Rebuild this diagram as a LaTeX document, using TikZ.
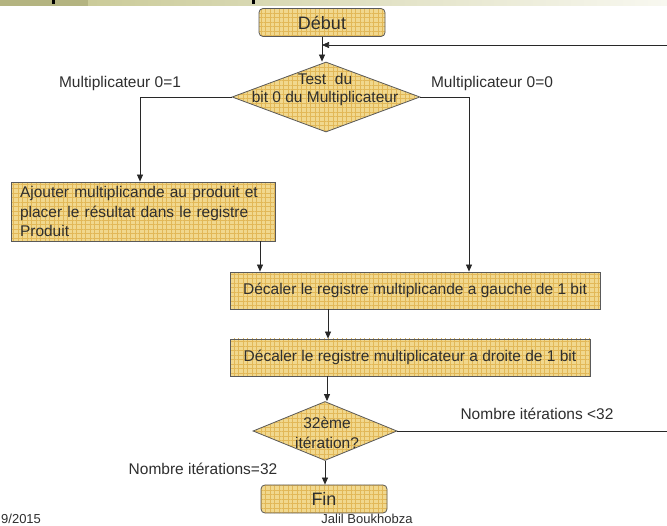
\documentclass[tikz,border=0pt]{standalone}
\usepackage{fontspec}
\setmainfont{Liberation Sans}
\usetikzlibrary{shapes.geometric,arrows.meta,patterns.meta}
\definecolor{boxfill}{RGB}{241,216,142}
\definecolor{gridc}{RGB}{226,184,88}
\definecolor{edge}{RGB}{90,90,90}
\definecolor{linec}{RGB}{40,40,40}
\definecolor{bandL}{RGB}{196,196,140}
\definecolor{bandR}{RGB}{248,248,240}
\begin{document}
\begin{tikzpicture}[x=1pt,y=-1pt,
  every node/.style={font=\fontsize{15.5}{18}\selectfont, text=black!82},
  boxbase/.style={draw=edge, line width=0.8pt, preaction={fill=boxfill},
    pattern={Hatch[distance=4.5pt,angle=0,line width=0.5pt]}, pattern color=gridc},
  termbox/.style={boxbase, rounded corners=4pt, minimum width=126pt, minimum height=28pt, inner sep=0pt,
    font=\fontsize{18}{20}\selectfont},
  procbox/.style={boxbase, minimum height=37pt, inner sep=0pt},
  decbox/.style={boxbase, diamond, inner sep=0pt},
  conn/.style={draw=linec, line width=0.7pt},
  arr/.style={conn, -{Triangle[length=7pt,width=6pt]}},
  lbl/.style={inner sep=0pt}
]
\useasboundingbox (0,0) rectangle (667,526);
\clip (0,0) rectangle (667,526);
% top band
\shade[left color=bandL, right color=bandR] (0,0) rectangle (667,6);
\fill[bandL!92!black] (0,0) rectangle (88,6);
\fill[black] (52,0) rectangle (54.5,4);
\fill[black] (252,0) rectangle (254.5,4);

% nodes
\node[termbox] (debut) at (322,22.5) {Début};
\node[decbox, minimum width=188pt, minimum height=70pt] (test) at (326,97) {};
\node[lbl, align=center, font=\fontsize{15.5}{18}\selectfont] (testtxt) at (325,89) {Test\ \ du\\bit 0 du Multiplicateur};
\node[procbox, minimum width=264pt, minimum height=59pt, text width=246pt, align=left,
  font=\fontsize{15.5}{19.5}\selectfont] (add) at (143,211.5)
  {Ajouter multiplicande au produit et\\placer le résultat dans le registre\\Produit};
\node[procbox, minimum width=370pt] (shl) at (415,290.5) {Décaler le registre multiplicande a gauche de 1 bit};
\node[procbox, minimum width=360pt] (shr) at (410,357.5) {Décaler le registre multiplicateur a droite de 1 bit};
\node[decbox, minimum width=144pt, minimum height=59pt] (iter) at (325,431) {};
\node[lbl, align=center, font=\fontsize{15.5}{20}\selectfont] (itertxt) at (327,433) {32ème\\itération?};
\node[termbox] (fin) at (324,499) {Fin};

% labels
\node[lbl] (l1) at (120,83) {Multiplicateur 0=1};
\node[lbl] (l0) at (492,83) {Multiplicateur 0=0};
\node[lbl] (llt) at (537,414) {Nombre itérations <32};
\node[lbl] (leq) at (203,469) {Nombre itérations=32};
\node[lbl, font=\fontsize{13}{15}\selectfont, anchor=west] (date) at (1,519) {9/2015};
\node[lbl, font=\fontsize{13}{15}\selectfont] (auth) at (367,519) {Jalil Boukhobza};

% connectors
\coordinate (loopR) at (672,45);
\coordinate (loopIn) at (322,45);
\draw[arr] (debut.south) -- (test.north -| debut.south);
\draw[arr] (loopR) -- (loopIn);
\draw[arr] (test.west) -| (add.north -| 140,0);
\draw[arr] (test.east) -| (shl.north -| 469,0);
\draw[arr] (add.south -| 260,0) -- (shl.north -| 260,0);
\draw[arr] (shl.south -| 328,0) -- (shr.north -| 328,0);
\draw[arr] (shr.south -| 327,0) -- (iter.north -| 327,0);
\draw[conn] (iter.east) -- (iter.east -| loopR) -- (loopR);
\draw[arr] (iter.south) -- (fin.north -| iter.south);
\end{tikzpicture}
\end{document}
